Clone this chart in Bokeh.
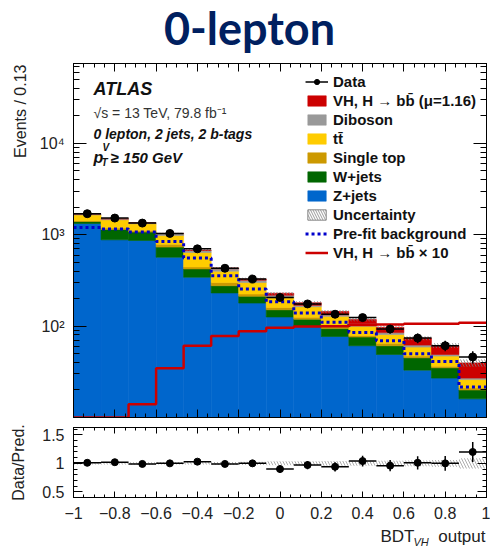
import numpy as np
from bokeh.plotting import figure
from bokeh.models import (Range1d, LogAxis, LinearAxis, FixedTicker, SingleIntervalTicker,
                          CustomJSTickFormatter, CustomLabelingPolicy, Label, Legend, LegendItem,
                          Title)
from bokeh.core.properties import value
from bokeh.layouts import column
from bokeh.embed import file_html
from bokeh.resources import INLINE

# ---------------- data ----------------
x_lo, x_hi, n_bins = -1.0, 1.0, 15
data     = [1702, 1524, 1343, 1035, 702, 430, 328, 206, 175, 135, 124, 93, 74, 61, 46]
data_err = [41, 39, 37, 32, 26, 21, 18, 14, 13, 12, 11, 10, 9, 8, 7]
zjets    = [1330, 881, 867, 568, 343, 231, 179, 126, 99, 77, 61, 49, 33, 27, 16]
wjets    = [70, 262, 204, 165, 80, 46, 33, 25, 20, 17, 15, 12, 12, 8, 4]
stop     = [25, 43, 39, 57, 22, 23, 13, 9, 6, 7, 3, 4, 2, 1.5, 1]
ttbar    = [225, 274, 210, 191, 195, 100, 75, 45, 38, 27, 21, 16, 12, 10.5, 5]
diboson  = [38, 35, 33, 50, 33, 25, 18, 13, 6, 5, 6, 4, 3, 2, 1]
vh       = [0.5, 0.8, 1.6, 4, 7, 9, 10, 11, 11.5, 11.6, 12, 12, 12, 12.3, 12.6]
prefit   = [1205, 1160, 1071, 845, 558, 357, 255, 185, 139, 110, 85, 69, 50, 41, 21.6]
vh_x10   = [10, 10, 14, 34.5, 61, 78, 88, 96, 99, 100, 103, 104, 106, 106, 109]
unc_rel  = [0.02, 0.02, 0.02, 0.02, 0.02, 0.025, 0.03, 0.035, 0.035, 0.04, 0.04, 0.045, 0.05, 0.06, 0.09]
ratio    = [1.01, 1.02, 0.99, 1.0, 1.03, 0.99, 1.0, 0.9, 0.97, 0.94, 1.04, 0.96, 1.01, 1.0, 1.2]
ratio_err = [0.025, 0.026, 0.028, 0.031, 0.039, 0.048, 0.055, 0.063, 0.073, 0.081, 0.094, 0.1, 0.117, 0.128, 0.177]

labels = ["Data", "VH, H \u2192 bb\u0304 (\u03bc=1.16)", "Diboson", "tt\u0304", "Single top",
          "W+jets", "Z+jets", "Uncertainty", "Pre-fit background", "VH, H \u2192 bb\u0304 \u00d7 10"]
colors = {"Z+jets": "#0066cc", "W+jets": "#006600", "Single top": "#cc9900",
          "ttbar": "#ffcc00", "Diboson": "#999999", "VH": "#cc0000"}

FONT = "Liberation Sans"
Y_MIN, Y_MAX = 10, 7.5e4
W = 490
FRAME_L, FRAME_R = 73, 486   # frame edges shared by all stacked figures

edges = np.linspace(x_lo, x_hi, n_bins + 1)
left, right = edges[:-1], edges[1:]
centers = 0.5 * (left + right)
step_x = np.repeat(edges, 2)[1:-1]

NO_LABELS = CustomLabelingPolicy(code="""
for (let i = 0; i < indices.size; i++) { indices.unset(i) }
return indices
""")

def bare_axis(fig, cls, ticker, side, tin, mtin):
    ax = cls(ticker=ticker, major_label_text_font_size="1px", major_label_standoff=0,
             major_label_policy=NO_LABELS, major_tick_in=tin, major_tick_out=0,
             minor_tick_in=mtin, minor_tick_out=0, axis_line_color="black")
    fig.add_layout(ax, side)
    return ax

def text_strip(height):
    f = figure(width=W, height=height, x_range=Range1d(FRAME_L, FRAME_R),
               y_range=Range1d(0, height), output_backend="svg", toolbar_location=None,
               x_axis_location=None, y_axis_location=None,
               min_border_left=FRAME_L, min_border_right=W - FRAME_R,
               min_border_top=0, min_border_bottom=0)
    f.grid.visible = False
    f.outline_line_color = None
    return f

# ---------------- title strip ----------------
t = text_strip(55)
t.text(x=[249], y=[28], text=["0-lepton"], text_font=value("Lato"), text_font_size="45px",
       text_font_style="bold", text_color="#002060", text_align="center",
       text_baseline="middle")

# ---------------- main panel ----------------
p = figure(width=W, height=367, x_range=Range1d(x_lo, x_hi), y_range=Range1d(Y_MIN, Y_MAX),
           y_axis_type="log", output_backend="svg", toolbar_location=None,
           x_axis_location=None,
           min_border_left=FRAME_L, min_border_right=W - FRAME_R, min_border_top=8,
           min_border_bottom=5)
p.xgrid.visible = False
p.ygrid.visible = False
p.outline_line_color = "black"
p.background_fill_color = "white"

stack = [("Z+jets", zjets, colors["Z+jets"]), ("W+jets", wjets, colors["W+jets"]),
         ("Single top", stop, colors["Single top"]), ("ttbar", ttbar, colors["ttbar"]),
         ("Diboson", diboson, colors["Diboson"]), ("VH", vh, colors["VH"])]
cum = np.zeros(n_bins)
rend = {}
for name, vals, col in stack:
    top = cum + np.array(vals, dtype=float)
    bot = np.where(cum > 0, cum, 1.0)
    rend[name] = p.quad(left=left, right=right, bottom=bot, top=top,
                        fill_color=col, line_color=col, line_width=0.6)
    cum = top
total = cum

unc = np.array(unc_rel)
p.quad(left=left, right=right, bottom=total * (1 - unc), top=total * (1 + unc),
       fill_color=None, line_color=None, hatch_pattern="left_diagonal_line",
       hatch_color="#777777", hatch_alpha=0.8, hatch_scale=6, hatch_weight=1)
unc_leg = p.quad(left=left, right=right, bottom=total * (1 - unc), top=total * (1 + unc),
                 fill_color="white", line_color="#888888", line_width=1,
                 hatch_pattern="left_diagonal_line", hatch_color="#999999",
                 hatch_scale=5, hatch_weight=1, visible=False)

pre = p.line(step_x, np.repeat(prefit, 2), line_color="#0000cc", line_width=3, line_dash="3 3")
sig = p.line(step_x, np.repeat(vh_x10, 2), line_color="#cc0000", line_width=2.5)

d = np.array(data, dtype=float)
de = np.array(data_err, dtype=float)
hbar = p.segment(x0=left, y0=d, x1=right, y1=d, line_color="black", line_width=1.5)
p.segment(x0=centers, y0=d - de, x1=centers, y1=d + de, line_color="black", line_width=1.5)
dots = p.scatter(centers, d, size=8, color="black")

# axes
xt = SingleIntervalTicker(interval=0.2, num_minor_ticks=4)
minor_log = [k * 10 ** e for e in range(1, 5) for k in range(2, 10)]
yt = FixedTicker(ticks=[100, 1000, 10000], minor_ticks=minor_log)
sup = CustomJSTickFormatter(code="""
const e = Math.round(Math.log10(tick));
const m = {1:'\u00b9', 2:'\u00b2', 3:'\u00b3', 4:'\u2074', 5:'\u2075'};
return '10' + m[e];
""")
p.yaxis.ticker = yt
p.yaxis.formatter = sup
p.yaxis.major_tick_out = 0
p.yaxis.minor_tick_out = 0
p.yaxis.major_tick_in = 13
p.yaxis.minor_tick_in = 6
p.yaxis.axis_line_color = "black"
p.yaxis.major_label_text_font = FONT
p.yaxis.major_label_text_font_size = "16px"
p.yaxis.major_label_text_color = "#222222"
p.yaxis.major_label_standoff = 9

bare_axis(p, LinearAxis, xt, "below", 8, 4)
bare_axis(p, LinearAxis, xt, "above", 8, 4)
bare_axis(p, LogAxis, yt, "right", 13, 6)

p.add_layout(Title(text="Events / 0.13", align="right", text_font=FONT, text_font_size="16px",
                   text_font_style="normal", text_color="#222222", standoff=16, offset=1), "left")

legend = Legend(items=[
    LegendItem(label=labels[0], renderers=[hbar, dots]),
    LegendItem(label=labels[1], renderers=[rend["VH"]]),
    LegendItem(label=labels[2], renderers=[rend["Diboson"]]),
    LegendItem(label=labels[3], renderers=[rend["ttbar"]]),
    LegendItem(label=labels[4], renderers=[rend["Single top"]]),
    LegendItem(label=labels[5], renderers=[rend["W+jets"]]),
    LegendItem(label=labels[6], renderers=[rend["Z+jets"]]),
    LegendItem(label=labels[7], renderers=[unc_leg]),
    LegendItem(label=labels[8], renderers=[pre]),
    LegendItem(label=labels[9], renderers=[sig]),
], location="top_right", padding=0, margin=10, spacing=2, glyph_width=23, glyph_height=13,
   label_height=15, label_standoff=5, label_text_font=FONT, label_text_font_style="bold",
   label_text_font_size="15px", label_text_color="#111111",
   border_line_alpha=0, background_fill_alpha=0)
p.add_layout(legend)

def lab(fig, text, x, y, size, style="normal", color="#111111"):
    fig.add_layout(Label(x=x, y=y, x_units="screen", y_units="screen", text=text,
                         text_font=FONT, text_font_size=size, text_font_style=style,
                         text_color=color, text_align="left", text_baseline="middle"))

lab(p, "ATLAS", 20, 329, "18px", style="bold italic")
lab(p, "\u221as = 13 TeV, 79.8 fb\u207b\u00b9", 20, 305, "14px", color="#333333")
lab(p, "0 lepton, 2 jets, 2 b-tags", 20, 284, "14px", style="bold italic")
lab(p, "p", 20, 260, "16px", style="bold italic")
lab(p, "V", 29, 270, "10px", style="bold italic")
lab(p, "T", 28, 255, "10px", style="bold italic")
lab(p, "\u2265 150 GeV", 37, 260, "15px", style="bold italic")

# ---------------- ratio panel ----------------
r = figure(width=W, height=105, x_range=p.x_range, y_range=Range1d(0.4, 1.63),
           output_backend="svg", toolbar_location=None,
           min_border_left=FRAME_L, min_border_right=W - FRAME_R, min_border_top=5,
           min_border_bottom=30)
r.xgrid.visible = False
r.ygrid.visible = False
r.outline_line_color = "black"

r.quad(left=left, right=right, bottom=1 - unc, top=1 + unc, fill_color=None, line_color=None,
       hatch_pattern="left_diagonal_line", hatch_color="#999999", hatch_alpha=0.8,
       hatch_scale=6, hatch_weight=1)
rv = np.array(ratio)
re_ = np.array(ratio_err)
r.segment(x0=left, y0=rv, x1=right, y1=rv, line_color="black", line_width=1.5)
r.segment(x0=centers, y0=rv - re_, x1=centers, y1=rv + re_, line_color="black", line_width=1.5)
r.scatter(centers, rv, size=7, color="black")

ryt = FixedTicker(ticks=[0.5, 1.0, 1.5], minor_ticks=[0.6, 0.7, 0.8, 0.9, 1.1, 1.2, 1.3, 1.4, 1.6])
r.xaxis.ticker = xt
r.xaxis.formatter = CustomJSTickFormatter(code="""
const v = Math.round(tick * 10) / 10;
if (v === 0) return '0';
return (v < 0 ? '\\u2212' : '') + Math.abs(v).toString();
""")
r.yaxis.ticker = ryt
r.yaxis.formatter = CustomJSTickFormatter(code="return (Math.round(tick*10)/10).toString();")
for ax in [r.xaxis[0], r.yaxis[0]]:
    ax.major_tick_out = 0
    ax.minor_tick_out = 0
    ax.axis_line_color = "black"
    ax.major_label_text_font = FONT
    ax.major_label_text_font_size = "16px"
    ax.major_label_text_color = "#222222"
r.xaxis.major_tick_in = 6
r.xaxis.minor_tick_in = 3
r.xaxis.major_label_standoff = 9
r.yaxis.major_tick_in = 9
r.yaxis.minor_tick_in = 4
r.yaxis.major_label_standoff = 9
r.yaxis.axis_label = "Data/Pred."
r.yaxis.axis_label_text_font = FONT
r.yaxis.axis_label_text_font_size = "16px"
r.yaxis.axis_label_text_font_style = "normal"
r.yaxis.axis_label_text_color = "#222222"
r.yaxis.axis_label_standoff = 12
bare_axis(r, LinearAxis, xt, "above", 6, 3)
bare_axis(r, LinearAxis, ryt, "right", 9, 4)

# ---------------- x-axis title strip ----------------
b = text_strip(20)
b.text(x=[380], y=[11], text=["BDT"], text_font=value(FONT), text_font_size="17px",
       text_color="#222222", text_align="left", text_baseline="middle")
b.text(x=[413], y=[6], text=["VH"], text_font=value(FONT), text_font_size="11px",
       text_font_style="italic", text_color="#222222", text_align="left", text_baseline="middle")
b.text(x=[485], y=[11], text=["output"], text_font=value(FONT), text_font_size="17px",
       text_color="#222222", text_align="right", text_baseline="middle")

layout = column(t, p, r, b, spacing=0)
open("out.html", "w").write(file_html(layout, INLINE))
